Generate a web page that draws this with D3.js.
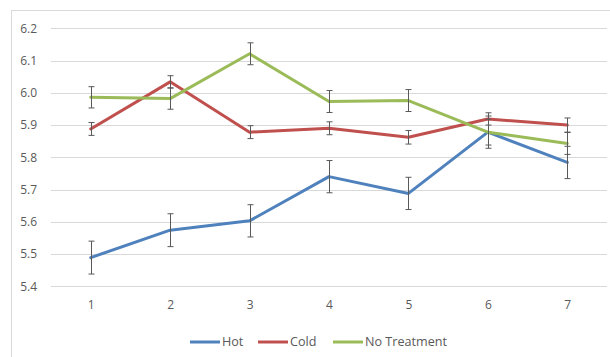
<!DOCTYPE html>
<html><head><meta charset="utf-8">
<script src="https://cdn.jsdelivr.net/npm/d3@7"></script>
<style>body{margin:0;background:#fff}svg{display:block}</style>
</head><body>
<svg id="c" width="610" height="357"></svg>
<script>
const categories = ["1","2","3","4","5","6","7"];
const seriesNames = ["Hot","Cold","No Treatment"];
const hot = [5.489,5.574,5.603,5.740,5.688,5.878,5.784];
const hotErr = [0.051,0.051,0.050,0.050,0.050,0.050,0.050];
const cold = [5.888,6.034,5.878,5.890,5.862,5.919,5.900];
const coldErr = [0.020,0.019,0.020,0.020,0.021,0.019,0.022];
const noTreat = [5.986,5.982,6.121,5.973,5.976,5.878,5.843];
const noTreatErr = [0.033,0.033,0.034,0.034,0.034,0.040,0.034];
const yTicks = [5.4,5.5,5.6,5.7,5.8,5.9,6.0,6.1,6.2];
const colors = ["#4f81bd","#c0504d","#9bbb59"];

const svg = d3.select("#c");
const font = "'Open Sans', 'Noto Sans', sans-serif";
// outer frame
svg.append("rect").attr("x",11.5).attr("y",10.5).attr("width",610).attr("height",360)
  .attr("fill","none").attr("stroke","#d9d9d9");

const x = d3.scalePoint().domain(categories).range([51,607]).padding(0.5);
const y = d3.scaleLinear().domain([5.4,6.2]).range([286.3,28.3]);

// gridlines
svg.append("g").selectAll("line").data(yTicks).join("line")
  .attr("x1",51).attr("x2",607)
  .attr("y1",d=>Math.round(y(d))+0.5).attr("y2",d=>Math.round(y(d))+0.5)
  .attr("stroke","#d9d9d9").attr("stroke-width",1);

// y axis labels
const yAxis = d3.axisLeft(y).tickValues(yTicks).tickFormat(d3.format(".1f")).tickSize(0).tickPadding(0);
const ya = svg.append("g").attr("transform","translate(37,0)").call(yAxis);
ya.select(".domain").remove();
ya.selectAll("text").attr("fill","#595959").style("font-family",font).style("font-size","12px");

// x axis labels
const xAxis = d3.axisBottom(x).tickSize(0).tickPadding(0);
const xa = svg.append("g").attr("transform","translate(0,300)").call(xAxis);
xa.select(".domain").remove();
xa.selectAll("text").attr("fill","#595959").style("font-family",font).style("font-size","12px");

const series = [
  {name:seriesNames[0], vals:hot, err:hotErr, color:colors[0]},
  {name:seriesNames[1], vals:cold, err:coldErr, color:colors[1]},
  {name:seriesNames[2], vals:noTreat, err:noTreatErr, color:colors[2]}
];

const line = d3.line().x((d,i)=>x(categories[i])).y(d=>y(d));
series.forEach(s=>{
  svg.append("path").datum(s.vals).attr("d",line)
    .attr("fill","none").attr("stroke",s.color).attr("stroke-width",3)
    .attr("stroke-linejoin","round").attr("stroke-linecap","round");
});
const eb = svg.append("g").attr("stroke","#595959").attr("stroke-width",1).attr("fill","none");
series.forEach(s=>{
  s.vals.forEach((v,i)=>{
    const cx = Math.round(x(categories[i]))+0.5;
    const t = y(v+s.err[i]), b = y(v-s.err[i]);
    eb.append("line").attr("x1",cx).attr("x2",cx).attr("y1",t).attr("y2",b);
    eb.append("line").attr("x1",cx-3).attr("x2",cx+3).attr("y1",t).attr("y2",t);
    eb.append("line").attr("x1",cx-3).attr("x2",cx+3).attr("y1",b).attr("y2",b);
  });
});

// legend
const legendX = [190,258,333];
const lg = svg.append("g");
series.forEach((s,i)=>{
  lg.append("line").attr("x1",legendX[i]).attr("x2",legendX[i]+30).attr("y1",342).attr("y2",342)
    .attr("stroke",s.color).attr("stroke-width",3);
  lg.append("text").attr("x",legendX[i]+32).attr("y",342).attr("dy","0.35em")
    .attr("fill","#595959").style("font-family",font).style("font-size","12.6px").text(s.name);
});
</script>
</body></html>
